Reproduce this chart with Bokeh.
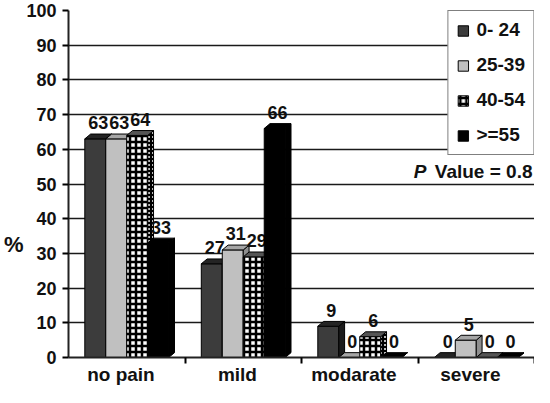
from bokeh.plotting import figure
from bokeh.models import (ColumnDataSource, FixedTicker, Legend, LegendItem, Label)
from bokeh.core.properties import value
from bokeh.embed import file_html
from bokeh.resources import INLINE

# ---- data ----
categories = ["no pain", "mild", "modarate", "severe"]
groups = ["0- 24", "25-39", "40-54", ">=55"]
v_0_24 = [63, 27, 9, 0]
v_25_39 = [63, 31, 0, 5]
v_40_54 = [64, 29, 6, 0]
v_55 = [33, 66, 0, 0]
y_ticks = [0, 10, 20, 30, 40, 50, 60, 70, 80, 90, 100]
p_value_text = "Value = 0.8"

series = [v_0_24, v_25_39, v_40_54, v_55]

FONT = "Liberation Sans"
front = ["#3c3c3c", "#c0c0c0", "white", "black"]
top_c = ["#242424", "#a6a6a6", "#555555", "black"]
side_c = ["#1c1c1c", "#8e8e8e", "#333333", "black"]
hatch = [None, None, "+", None]
offsets = [-0.27, -0.09, 0.09, 0.27]
bw = 0.18
dx = 0.05   # 3D depth in x units
dy = 1.4    # 3D depth in y units
cshift = 0.50
lshift = 0.45

p = figure(width=534, height=387, x_range=(0, 4), y_range=(0, 100),
           output_backend="svg", toolbar_location=None,
           min_border_left=60, min_border_right=0, min_border_top=10,
           min_border_bottom=10)
p.outline_line_color = None
p.background_fill_color = "white"

# grid
p.xgrid.grid_line_color = None
p.ygrid.grid_line_color = "#1a1a1a"
p.ygrid.grid_line_width = 1.6
p.ygrid.ticker = FixedTicker(ticks=y_ticks)

# y axis
p.yaxis.ticker = FixedTicker(ticks=y_ticks)
p.yaxis.axis_line_width = 2
p.yaxis.axis_line_color = "#222222"
p.yaxis.major_tick_out = 6
p.yaxis.major_tick_in = 0
p.yaxis.major_tick_line_width = 2
p.yaxis.minor_tick_line_color = None
p.yaxis.major_label_text_font = FONT
p.yaxis.major_label_text_font_style = "bold"
p.yaxis.major_label_text_font_size = "18px"
p.yaxis.major_label_text_color = "#111111"
p.yaxis.major_label_standoff = 6
p.yaxis.axis_label = "\n\n\n\n%"
p.yaxis.axis_label_orientation = "horizontal"
p.yaxis.axis_label_standoff = 0
p.yaxis.axis_label_text_font = FONT
p.yaxis.axis_label_text_font_style = "bold"
p.yaxis.axis_label_text_font_size = "22px"
p.yaxis.axis_label_text_color = "#111111"

# x axis
cat_pos = [i + cshift for i in range(len(categories))]
lab_pos = [i + lshift for i in range(len(categories))]
p.xaxis.ticker = FixedTicker(ticks=lab_pos, minor_ticks=[1, 2, 3, 4])
p.xaxis.major_label_overrides = {c: name for c, name in zip(lab_pos, categories)}
p.xaxis.major_tick_line_color = None
p.xaxis.major_tick_out = 0
p.xaxis.major_tick_in = 0
p.xaxis.minor_tick_out = 6
p.xaxis.minor_tick_in = 0
p.xaxis.minor_tick_line_width = 2
p.xaxis.axis_line_width = 2
p.xaxis.axis_line_color = "#222222"
p.xaxis.major_label_text_font = FONT
p.xaxis.major_label_text_font_style = "bold"
p.xaxis.major_label_text_font_size = "19px"
p.xaxis.major_label_text_color = "#111111"
p.xaxis.major_label_standoff = 0
p.xaxis.axis_label_standoff = 0

legend_items = []
for gi, vals in enumerate(series):
    xs_c = [c + offsets[gi] for c in cat_pos]
    src = ColumnDataSource(dict(x=xs_c, top=vals))
    kw = dict(fill_color=front[gi], line_color="black", line_width=1)
    if hatch[gi]:
        kw.update(hatch_pattern=hatch[gi], hatch_color="black",
                  hatch_scale=6, hatch_weight=2.5)
    r = p.vbar(x="x", top="top", width=bw, bottom=0, source=src, **kw)
    legend_items.append(LegendItem(label=groups[gi], renderers=[r]))

    # 3D top and side faces, derived from the values
    top_xs, top_ys, side_xs, side_ys = [], [], [], []
    for x, v in zip(xs_c, vals):
        x0, x1 = x - bw / 2, x + bw / 2
        top_xs.append([x0, x1, x1 + dx, x0 + dx])
        top_ys.append([v, v, v + dy, v + dy])
        side_xs.append([x1, x1 + dx, x1 + dx, x1])
        side_ys.append([0, dy, v + dy, v])
    skw = dict(fill_color=side_c[gi], line_color="black", line_width=1)
    if hatch[gi]:
        skw.update(hatch_pattern=hatch[gi], hatch_color="black",
                   hatch_scale=4, hatch_weight=2, fill_color="#bbbbbb")
    p.patches(side_xs, side_ys, **skw)
    p.patches(top_xs, top_ys, fill_color=top_c[gi], line_color="black", line_width=1)

    # value labels
    p.text(x=[x + dx / 2 for x in xs_c], y=[v + dy + 3.2 for v in vals],
           text=[str(v) for v in vals], text_align="center",
           text_baseline="middle", text_font=value(FONT),
           text_font_size="18px", text_font_style="bold", text_color="#111111")

legend = Legend(items=legend_items, location="top_right")
legend.margin = 0
legend.padding = 8
legend.spacing = 13
legend.label_height = 20
legend.glyph_width = 13
legend.glyph_height = 13
legend.label_standoff = 7
legend.label_text_font = FONT
legend.label_text_font_style = "bold"
legend.label_text_font_size = "19px"
legend.label_text_color = "#111111"
legend.border_line_color = "black"
legend.border_line_width = 1.5
legend.background_fill_color = "white"
legend.background_fill_alpha = 1.0
p.add_layout(legend, "center")

# P value annotation
p.add_layout(Label(x=4, y=53.5, text=p_value_text, text_align="right",
                   text_baseline="middle", x_offset=-2, text_font=FONT,
                   text_font_style="bold", text_font_size="19px",
                   text_color="#111111"))
p.add_layout(Label(x=4, y=53.5, text="P", text_align="right",
                   text_baseline="middle", x_offset=-108, text_font=FONT,
                   text_font_style="bold italic", text_font_size="19px",
                   text_color="#111111"))

open("out.html", "w").write(file_html(p, INLINE))
